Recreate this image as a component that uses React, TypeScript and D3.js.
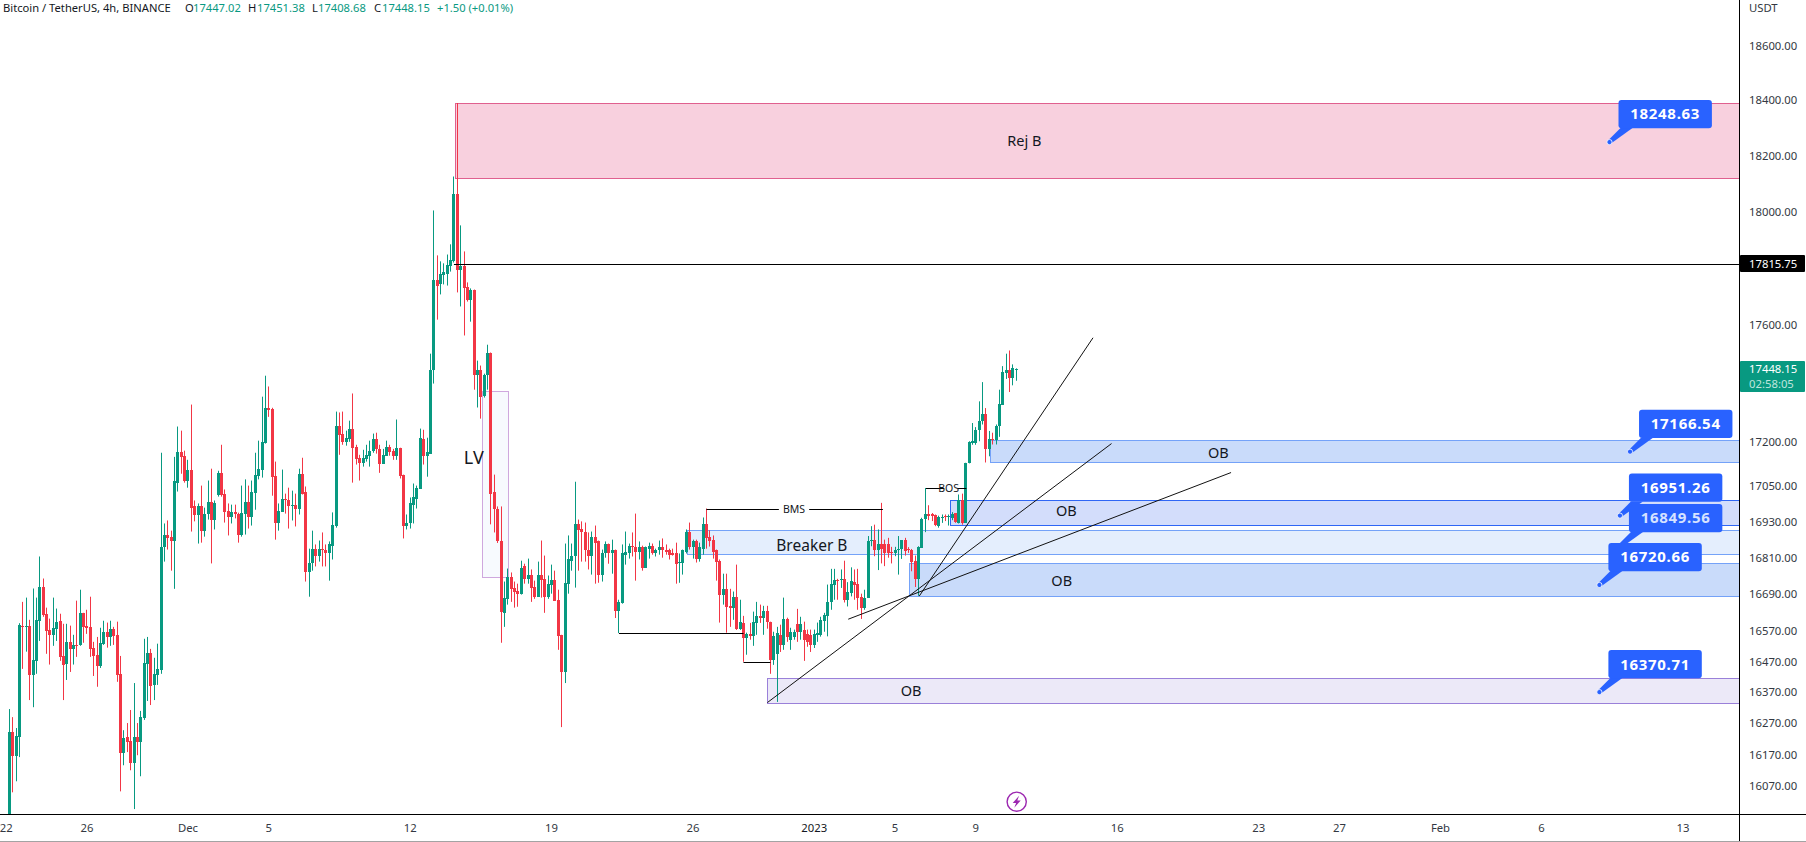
import React, { useEffect, useRef } from 'react';
import * as d3 from 'd3';

// 4h BTCUSDT candles, first bar is 22 Nov 2022 04:00 UTC
const opens = [
  15870,16242,16165,16226,16587,16585,16587,16426,16472,16603,
  16715,16626,16574,16557,16577,16603,16488,16463,16534,16511,
  16524,16524,16629,16587,16583,16515,16492,16456,16528,16567,
  16550,16577,16557,16430,16174,16226,16213,16143,16226,16210,
  16287,16463,16498,16394,16426,16443,16845,16888,16881,16865,
  17062,17166,17153,17069,17106,16982,16952,16982,16901,16958,
  16998,16938,17019,17096,17025,16968,16945,16965,16958,16885,
  16958,16998,16948,17028,17085,17106,17197,17316,17313,17085,
  16928,16965,17008,17005,16982,16988,16972,17092,17029,16763,
  16792,16841,16816,16841,16838,16826,16851,16918,17255,17228,
  17200,17211,17245,17183,17146,17129,17143,17153,17170,17211,
  17176,17126,17153,17183,17170,17153,17180,17089,16918,16925,
  16988,17008,17042,17211,17153,17160,17444,17757,17743,17775,
  17781,17806,17824,18064,17792,17806,17733,17690,17725,17427,
  17447,17358,17427,17506,17029,16975,16868,16629,16675,16748,
  16712,16702,16692,16782,16742,16755,16715,16682,16755,16742,
  16682,16722,16738,16672,16557,16436,16725,16801,16815,16922,
  16905,16898,16838,16815,16881,16865,16755,16825,16855,16825,
  16838,16635,16662,16821,16828,16851,16848,16831,16848,16778,
  16841,16851,16825,16835,16848,16838,16835,16825,16825,16795,
  16795,16831,16898,16845,16868,16808,16841,16922,16881,16871,
  16835,16801,16689,16708,16652,16646,16682,16577,16596,16547,
  16560,16554,16596,16619,16612,16635,16600,16475,16495,16557,
  16524,16610,16541,16551,16593,16567,16574,16560,16557,16524,
  16557,16557,16603,16617,16663,16722,16738,16736,16742,16672,
  16694,16731,16724,16680,16644,16678,16865,16871,16836,16857,
  16855,16855,16829,16825,16838,16841,16869,16840,16838,16799,
  16741,16844,16940,16956,16956,16953,16918,16945,16949,16947,
  16943,16960,16927,17005,16927,17129,17196,17196,17239,17270,
  17296,17176,17208,17205,17253,17327,17436,17444,17417,17447.02,
];
const highs = [
  16316,16290,16255,16595,16665,16679,16606,16709,16679,16815,
  16742,16646,16610,16679,16643,16626,16593,16593,16587,16557,
  16669,16705,16629,16639,16682,16534,16550,16580,16603,16597,
  16603,16583,16600,16488,16248,16271,16313,16400,16271,16310,
  16544,16550,16511,16482,16528,17163,16925,16935,16901,17149,
  17252,17238,17170,17139,17327,17002,16992,17052,16978,17069,
  17109,17002,17102,17190,17039,16992,16988,16988,16961,17052,
  17073,17052,17069,17163,17204,17354,17426,17389,17316,17133,
  16992,17106,17025,17045,17035,17025,17109,17146,17049,16841,
  16901,16855,16868,16895,16855,16865,16962,17303,17300,17303,
  17238,17272,17365,17190,17156,17173,17190,17204,17228,17231,
  17190,17176,17204,17190,17176,17276,17180,17089,16955,17012,
  17059,17052,17245,17241,17214,17502,18004,17845,17824,17817,
  17848,17884,18125,18390,17951,17859,17750,17729,17725,17478,
  17461,17433,17533,17506,17089,16982,16982,16732,16775,16762,
  16732,16725,16801,16791,16808,16772,16735,16798,16868,16818,
  16752,16788,16768,16705,16557,16858,16885,16858,17065,16938,
  16932,16928,16895,16898,16918,16868,16838,16865,16858,16871,
  16838,16672,16855,16898,16858,16895,16958,16865,16851,16848,
  16861,16858,16841,16868,16875,16855,16841,16841,16861,16825,
  16838,16905,16928,16871,16871,16861,16945,16975,16902,16885,
  16838,16805,16758,16758,16708,16699,16788,16672,16619,16564,
  16596,16633,16665,16656,16652,16652,16600,16567,16583,16590,
  16679,16613,16580,16574,16642,16616,16600,16574,16574,16574,
  16597,16616,16629,16722,16774,16774,16741,16772,16801,16730,
  16779,16772,16774,16692,16705,16883,16916,16921,16905,16994,
  16871,16877,16847,16847,16883,16869,16877,16846,16840,16818,
  16849,16944,17044,16986,16960,16955,16951,16955,16955,16955,
  16963,16960,17022,17025,17129,17202,17264,17250,17338,17404,
  17315,17237,17231,17259,17378,17459,17502,17513,17465,17451.38,
];
const lows = [
  15860,16050,16085,16162,16446,16502,16345,16322,16430,16537,
  16616,16495,16460,16521,16537,16472,16345,16410,16436,16460,
  16485,16521,16531,16560,16485,16423,16388,16449,16524,16515,
  16521,16524,16404,16053,16136,16178,16120,15997,16168,16101,
  16281,16342,16329,16345,16394,16430,16798,16838,16768,16708,
  17032,17092,17062,17045,16898,16932,16858,16861,16881,16938,
  16792,16905,17015,17015,16928,16885,16925,16942,16861,16881,
  16888,16908,16918,16971,17073,17079,17194,17285,17018,16871,
  16901,16965,16958,16908,16935,16915,16955,17022,16732,16682,
  16768,16782,16798,16782,16782,16735,16805,16911,17156,17190,
  17187,17200,17062,17123,17069,17116,17133,17116,17163,17160,
  17095,17126,17153,17153,17139,17139,17076,16875,16905,16908,
  16925,16975,17042,17123,17082,17160,17399,17620,17708,17743,
  17739,17788,17820,17715,17666,17565,17683,17613,17378,17317,
  17279,17351,17378,16922,16895,16860,16531,16583,16656,16665,
  16646,16649,16689,16725,16725,16665,16675,16682,16679,16629,
  16675,16692,16668,16508,16258,16400,16692,16768,16712,16768,
  16798,16798,16772,16755,16725,16728,16732,16811,16791,16758,
  16612,16563,16659,16788,16808,16815,16735,16805,16768,16778,
  16808,16821,16815,16821,16811,16821,16805,16818,16725,16728,
  16755,16825,16838,16808,16795,16798,16821,16841,16848,16808,
  16735,16597,16656,16564,16583,16606,16573,16573,16469,16492,
  16541,16521,16557,16596,16557,16577,16430,16459,16339,16501,
  16508,16534,16508,16541,16534,16541,16472,16518,16501,16514,
  16534,16551,16567,16552,16639,16672,16672,16711,16663,16650,
  16683,16672,16639,16609,16639,16678,16849,16816,16770,16792,
  16783,16811,16792,16816,16755,16807,16818,16827,16766,16714,
  16685,16844,16896,16936,16933,16916,16911,16927,16933,16918,
  16936,16927,16925,16921,16927,17127,17190,17190,17202,17259,
  17130,17151,17191,17191,17217,17327,17415,17370,17393,17408.68,
];
const closes = [
  16242,16165,16229,16590,16583,16587,16426,16475,16606,16715,
  16623,16570,16557,16580,16600,16485,16460,16534,16511,16524,
  16521,16629,16583,16580,16511,16488,16456,16531,16567,16550,
  16577,16554,16426,16174,16222,16210,16143,16226,16210,16290,
  16466,16498,16392,16430,16446,16848,16888,16878,16865,17066,
  17166,17149,17069,17106,16978,16952,16982,16901,16958,16998,
  16938,16992,17096,17022,16965,16945,16965,16955,16885,16961,
  16998,16948,17032,17089,17109,17200,17316,17310,17082,16928,
  16968,17008,17002,16985,16988,16972,17092,17025,16763,16795,
  16841,16816,16841,16835,16826,16855,16921,17255,17224,17200,
  17214,17245,17180,17143,17129,17146,17156,17170,17211,17176,
  17126,17156,17183,17166,17153,17180,17086,16918,16928,16992,
  17015,17045,17214,17153,17166,17447,17757,17739,17778,17785,
  17810,17827,18064,17792,17806,17729,17690,17725,17430,17444,
  17354,17430,17506,17025,16972,16865,16633,16679,16748,16708,
  16699,16692,16778,16742,16755,16712,16682,16755,16738,16682,
  16725,16738,16669,16554,16436,16728,16805,16818,16922,16902,
  16895,16838,16815,16881,16861,16755,16828,16855,16828,16838,
  16635,16665,16825,16831,16851,16845,16831,16848,16778,16845,
  16851,16825,16838,16848,16835,16831,16821,16821,16791,16798,
  16835,16898,16845,16868,16808,16845,16922,16875,16868,16831,
  16798,16689,16708,16649,16646,16682,16577,16600,16547,16560,
  16554,16600,16619,16612,16635,16600,16475,16554,16564,16524,
  16610,16551,16567,16567,16567,16593,16541,16534,16524,16560,
  16564,16606,16623,16665,16724,16738,16736,16741,16672,16696,
  16733,16722,16678,16644,16678,16865,16871,16836,16857,16840,
  16827,16827,16825,16838,16841,16869,16832,16836,16796,16741,
  16846,16940,16955,16951,16951,16920,16946,16947,16947,16949,
  16958,16929,17003,16927,17129,17200,17202,17241,17272,17296,
  17176,17208,17205,17255,17330,17438,17444,17417,17451,17448.15,
];

const priceTicks = [18600, 18400, 18200, 18000, 17600, 17200, 17050, 16930, 16810, 16690, 16570, 16470, 16370, 16270, 16170, 16070];
const dateTicks = ['2022-11-22', '2022-11-26', '2022-12-01', '2022-12-05', '2022-12-12', '2022-12-19', '2022-12-26', '2023-01-01', '2023-01-05', '2023-01-09', '2023-01-16', '2023-01-23', '2023-01-27', '2023-02-01', '2023-02-06', '2023-02-13'];
const dateLabels = ['22', '26', 'Dec', '5', '12', '19', '26', '2023', '5', '9', '16', '23', '27', 'Feb', '6', '13'];

// zones: start bar, right bar (extends past the axis unless set), top and bottom price
const zoneNames = ['rej', 'lv', 'ob1', 'ob2', 'breaker', 'ob3', 'ob4'];
const zoneStart = [132.2, 140.2, 291.1, 279.2, 201.2, 267.3, 225.1];
const zoneEnd = [600, 148.2, 600, 600, 600, 600, 600];
const zoneTop = [18389, 17373, 17206, 17002, 16902, 16793, 16415];
const zoneBottom = [18118, 16746, 17130, 16919, 16822, 16683, 16337];
const zoneFill = ['#f8d0de', '#f7fafe', '#c9dbfa', '#d3ddfb', '#e4eefd', '#c9dbfa', '#ece9f8'];
const zoneStroke = ['#e0608f', '#cfa8de', '#74a2f8', '#2f66f5', '#74a2f8', '#74a2f8', '#9a80d9'];

const zoneTexts = ['Rej B', 'OB', 'OB', 'Breaker B', 'OB', 'OB'];
const zoneTextBar = [301.4, 359, 313.9, 238.3, 312.5, 267.8];
const zoneTextPrice = [18254, 17162, 16967, 16852, 16736, 16375];

// trend lines: [bar, price] pairs
const trendLines: [number, number, number, number][] = [
  [225.1, 16337, 327.3, 17194],
  [270.2, 16684, 321.8, 17557],
  [249.1, 16608, 362.8, 17096],
];

// black horizontal levels
const levelPrice = [17815.75, 16562, 16467];
const levelStart = [132, 181, 218];
const levelEnd = [600, 218, 226];

const calloutPrices = [18248.63, 17166.54, 16951.26, 16849.56, 16720.66, 16370.71];
const calloutBars = [475.2, 481.3, 478.3, 478.3, 472.2, 472.2];

const GREEN = '#089981';
const RED = '#f23645';
const BLUE = '#2962ff';
const FONT = '"Noto Sans", sans-serif';
const WIDTH = 1806;
const HEIGHT = 842;
const AXIS_X = 1739;
const AXIS_Y = 814;

const barTime = (i: number) => new Date(Date.UTC(2022, 10, 22, 4) + i * 4 * 3600 * 1000);

export default function App() {
  const ref = useRef<SVGSVGElement>(null);

  useEffect(() => {
    const svg = d3.select(ref.current);
    svg.selectAll('*').remove();

    const x = d3.scaleUtc().domain([barTime(0), barTime(497)]).range([9.5, 1682.9]);
    const y = d3.scaleLog().domain([16070, 18600]).range([786, 45.5]);
    const bx = (i: number) => x(barTime(i));
    const crisp = (v: number) => Math.round(v) + 0.5;

    svg.append('rect').attr('width', WIDTH).attr('height', HEIGHT).attr('fill', '#fff');

    const defs = svg.append('defs');
    defs.append('clipPath').attr('id', 'pane').append('rect').attr('width', AXIS_X).attr('height', AXIS_Y);

    const pane = svg.append('g').attr('clip-path', 'url(#pane)');

    // zones under the candles
    pane.selectAll('rect.zone')
      .data(zoneNames)
      .join('rect')
      .attr('class', 'zone')
      .attr('x', (_, i) => crisp(bx(zoneStart[i])))
      .attr('y', (_, i) => crisp(y(zoneTop[i])))
      .attr('width', (_, i) => crisp(bx(zoneEnd[i])) - crisp(bx(zoneStart[i])))
      .attr('height', (_, i) => crisp(y(zoneBottom[i])) - crisp(y(zoneTop[i])))
      .attr('fill', (_, i) => zoneFill[i])
      .attr('stroke', (_, i) => zoneStroke[i])
      .attr('stroke-width', 1);

    // candles
    const bars = d3.range(closes.length);
    const color = (i: number) => (closes[i] >= opens[i] ? GREEN : RED);
    pane.selectAll('rect.wick')
      .data(bars)
      .join('rect')
      .attr('class', 'wick')
      .attr('x', i => Math.floor(bx(i)))
      .attr('y', i => y(highs[i]))
      .attr('width', 1)
      .attr('height', i => y(lows[i]) - y(highs[i]))
      .attr('fill', color);
    pane.selectAll('rect.body')
      .data(bars)
      .join('rect')
      .attr('class', 'body')
      .attr('x', i => Math.floor(bx(i)) - 1)
      .attr('y', i => Math.round(y(Math.max(opens[i], closes[i]))))
      .attr('width', 3)
      .attr('height', i => Math.max(1, Math.round(y(Math.min(opens[i], closes[i]))) - Math.round(y(Math.max(opens[i], closes[i])))))
      .attr('fill', color);

    // levels
    pane.selectAll('line.level')
      .data(levelPrice)
      .join('line')
      .attr('class', 'level')
      .attr('x1', (_, i) => bx(levelStart[i]))
      .attr('x2', (_, i) => bx(levelEnd[i]))
      .attr('y1', d => crisp(y(d)))
      .attr('y2', d => crisp(y(d)))
      .attr('stroke', '#000')
      .attr('stroke-width', 1);

    // BMS and BOS with a gap for the word
    const bmsY = crisp(y(16972));
    const bosY = crisp(y(17043));
    const segs: [number, number, number][] = [
      [207, 228.5, bmsY],
      [237.5, 259.4, bmsY],
      [272.2, 277.6, bosY],
      [281.6, 284.2, bosY],
    ];
    pane.selectAll('line.seg')
      .data(segs)
      .join('line')
      .attr('class', 'seg')
      .attr('x1', d => bx(d[0]))
      .attr('x2', d => bx(d[1]))
      .attr('y1', d => d[2])
      .attr('y2', d => d[2])
      .attr('stroke', '#000');
    pane.selectAll('text.tag')
      .data([['BMS', 233, bmsY], ['BOS', 278.9, bosY]] as [string, number, number][])
      .join('text')
      .attr('class', 'tag')
      .attr('x', d => bx(d[1]))
      .attr('y', d => d[2])
      .attr('dy', '0.36em')
      .attr('text-anchor', 'middle')
      .attr('font-family', FONT)
      .attr('font-size', 10.5)
      .attr('fill', '#131722')
      .text(d => d[0]);

    // trend lines
    pane.selectAll('line.trend')
      .data(trendLines)
      .join('line')
      .attr('class', 'trend')
      .attr('x1', d => bx(d[0]))
      .attr('y1', d => y(d[1]))
      .attr('x2', d => bx(d[2]))
      .attr('y2', d => y(d[3]))
      .attr('stroke', '#111')
      .attr('stroke-width', 1);

    // zone captions
    pane.selectAll('text.caption')
      .data(zoneTexts)
      .join('text')
      .attr('class', 'caption')
      .attr('x', (_, i) => bx(zoneTextBar[i]))
      .attr('y', (_, i) => y(zoneTextPrice[i]))
      .attr('dy', '0.36em')
      .attr('text-anchor', 'middle')
      .attr('font-family', FONT)
      .attr('font-size', (d) => (d === 'Breaker B' ? 15.5 : 14.5))
      .attr('fill', '#131722')
      .text(d => d);
    pane.append('text')
      .attr('x', bx(137.9))
      .attr('y', y(17147))
      .attr('dy', '0.36em')
      .attr('text-anchor', 'middle')
      .attr('font-family', FONT)
      .attr('font-size', 18)
      .attr('fill', '#131722')
      .text('LV');

    // price callouts
    const callout = pane.selectAll('g.callout')
      .data(calloutPrices)
      .join('g')
      .attr('class', 'callout')
      .attr('transform', (d, i) => `translate(${bx(calloutBars[i])},${y(d)})`);
    callout.append('path')
      .attr('d', 'M-1.5,-1.5L11,-14L23,-14L1.5,1.5Z')
      .attr('fill', BLUE);
    callout.append('rect')
      .attr('x', 9)
      .attr('y', -42)
      .attr('width', 93.4)
      .attr('height', 28.2)
      .attr('rx', 3)
      .attr('fill', BLUE);
    callout.append('circle')
      .attr('r', 2.6)
      .attr('fill', (d, i) => (i === 3 ? '#e4eefd' : BLUE))
      .attr('stroke', (d, i) => (i === 3 ? BLUE : '#fff'))
      .attr('stroke-width', 0.8);
    callout.append('text')
      .attr('x', 55.7)
      .attr('y', -28)
      .attr('dy', '0.36em')
      .attr('text-anchor', 'middle')
      .attr('font-family', FONT)
      .attr('font-weight', 700)
      .attr('font-size', 15)
      .attr('letter-spacing', 0.7)
      .attr('fill', (d, i) => (i === 3 ? '#d6e2ff' : '#fff'))
      .text(d => d3.format('.2f')(d));

    // axis frame
    svg.append('line').attr('x1', AXIS_X + 0.5).attr('x2', AXIS_X + 0.5).attr('y1', 0).attr('y2', HEIGHT).attr('stroke', '#000');
    svg.append('line').attr('x1', 0).attr('x2', WIDTH).attr('y1', AXIS_Y + 0.5).attr('y2', AXIS_Y + 0.5).attr('stroke', '#000');
    svg.append('line').attr('x1', 0).attr('x2', WIDTH).attr('y1', 841.5).attr('y2', 841.5).attr('stroke', '#a3a3a3');

    // price axis
    const axisText = (s: any) => s
      .attr('font-family', FONT)
      .attr('font-size', 11.3)
      .attr('fill', '#333842');
    svg.selectAll('text.ptick')
      .data(priceTicks)
      .join('text')
      .attr('class', 'ptick')
      .attr('x', 1749)
      .attr('y', d => y(d))
      .attr('dy', '0.36em')
      .call(axisText)
      .text(d => d3.format('.2f')(d));
    svg.append('text').attr('x', 1749).attr('y', 8).attr('dy', '0.36em').call(axisText).text('USDT');

    // last price and marked level tags
    svg.append('rect').attr('x', AXIS_X + 1).attr('y', 361).attr('width', 65).attr('height', 31).attr('rx', 1).attr('fill', GREEN);
    svg.append('text').attr('x', 1749).attr('y', y(17448.15)).attr('dy', '0.36em').call(axisText).attr('fill', '#fff').text('17448.15');
    svg.append('text').attr('x', 1749).attr('y', 383.5).attr('dy', '0.36em').call(axisText).attr('fill', '#bfe5dd').text('02:58:05');
    svg.append('rect').attr('x', AXIS_X + 1).attr('y', 255).attr('width', 65).attr('height', 17).attr('rx', 1).attr('fill', '#000');
    svg.append('text').attr('x', 1749).attr('y', y(17815.75)).attr('dy', '0.36em').call(axisText).attr('fill', '#fff').text('17815.75');

    // time axis
    svg.selectAll('text.dtick')
      .data(dateTicks)
      .join('text')
      .attr('class', 'dtick')
      .attr('x', d => x(new Date(d + 'T00:00:00Z')))
      .attr('y', 827.7)
      .attr('dy', '0.36em')
      .attr('text-anchor', 'middle')
      .call(axisText)
      .attr('fill', (_, i) => (dateLabels[i] === '2023' ? '#131722' : '#333842'))
      .text((_, i) => dateLabels[i]);

    // news bolt
    const bolt = svg.append('g').attr('transform', 'translate(1016.7,801.7)');
    bolt.append('circle').attr('r', 9.6).attr('fill', '#fff').attr('stroke', '#9c27b0').attr('stroke-width', 1.4);
    bolt.append('path').attr('d', 'M2.4,-6L-4,1.2L-0.6,1.2L-2.4,6L4,-1.2L0.6,-1.2Z').attr('fill', '#9c27b0');

    // legend
    const legend: [string, number, string][] = [
      ['Bitcoin / TetherUS, 4h, BINANCE', 3, '#131722'],
      ['O', 185, '#131722'],
      ['17447.02', 193, GREEN],
      ['H', 248, '#131722'],
      ['17451.38', 257, GREEN],
      ['L', 312, '#131722'],
      ['17408.68', 318, GREEN],
      ['C', 374, '#131722'],
      ['17448.15', 382, GREEN],
      ['+1.50 (+0.01%)', 437, GREEN],
    ];
    svg.selectAll('text.legend')
      .data(legend)
      .join('text')
      .attr('class', 'legend')
      .attr('x', d => d[1])
      .attr('y', 8)
      .attr('dy', '0.36em')
      .attr('font-family', FONT)
      .attr('font-size', 11.2)
      .attr('fill', d => d[2])
      .text(d => d[0]);
  }, []);

  return <svg ref={ref} width={WIDTH} height={HEIGHT} style={{ position: 'absolute', left: 0, top: 0 }} />;
}
